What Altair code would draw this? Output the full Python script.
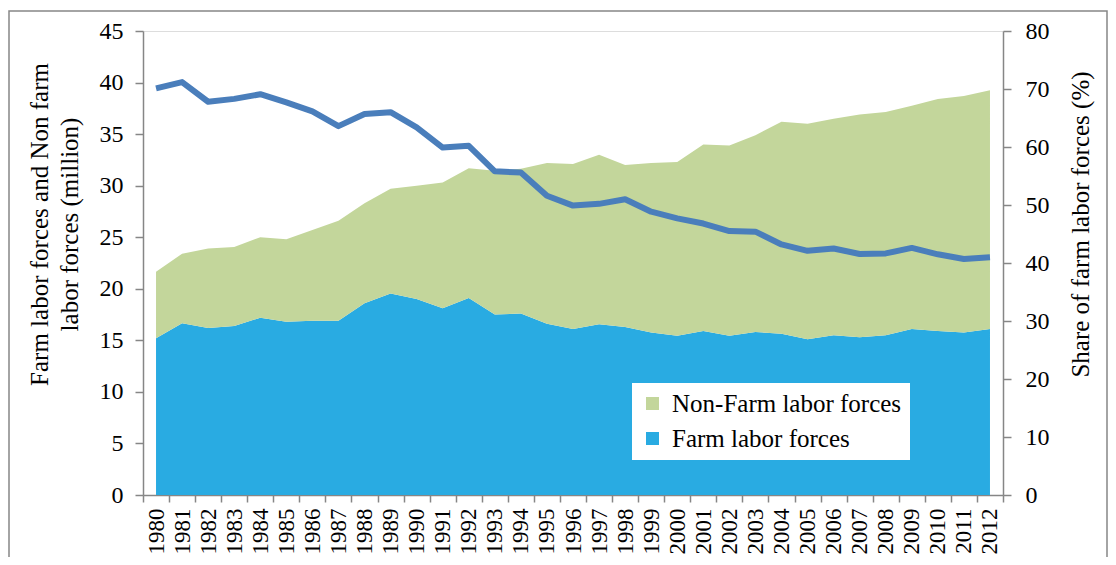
import altair as alt
import pandas as pd

years = list(range(1980, 2013))
farm = [15.2, 16.65, 16.2, 16.4, 17.2, 16.8, 16.9, 16.9, 18.6, 19.55, 19.0, 18.1, 19.1,
        17.5, 17.6, 16.6, 16.1, 16.55, 16.3, 15.75, 15.45, 15.9, 15.45, 15.8, 15.65,
        15.1, 15.5, 15.3, 15.5, 16.1, 15.9, 15.75, 16.1]
nonfarm = [6.46, 6.75, 7.7, 7.65, 7.8, 8.0, 8.8, 9.7, 9.7, 10.15, 11.0, 12.2, 12.6,
           13.95, 14.05, 15.6, 16.0, 16.45, 15.7, 16.45, 16.85, 18.1, 18.45, 19.1, 20.55,
           20.9, 21.0, 21.6, 21.65, 21.65, 22.5, 22.95, 23.15]
share = [70.1, 71.2, 67.8, 68.3, 69.1, 67.7, 66.15, 63.6, 65.7, 66.0, 63.4, 59.9, 60.2,
         55.8, 55.6, 51.6, 49.9, 50.2, 51.0, 48.85, 47.7, 46.8, 45.5, 45.4, 43.2,
         42.1, 42.5, 41.55, 41.65, 42.6, 41.5, 40.7, 41.0]
series_names = ["Non-Farm labor forces", "Farm labor forces"]
series_colors = ["#C3D69B", "#29ABE2"]

FONT = "Liberation Serif"
GRAY = "#868686"

rows = []
for y, f, n in zip(years, farm, nonfarm):
    rows.append({"year": y, "series": "Farm labor forces", "low": 0.0, "high": f})
    rows.append({"year": y, "series": "Non-Farm labor forces", "low": f, "high": f + n})
area_df = pd.DataFrame(rows)
line_df = pd.DataFrame({"year": years, "share": share})

xscale = alt.Scale(domain=[years[0] - 0.5, years[-1] + 0.5], nice=False, zero=False)
half_years = [y - 0.5 for y in years] + [years[-1] + 0.5]

frame = alt.Chart(alt.Data(values=[{"a": 1}])).mark_rect(
    fill=None, stroke=GRAY, strokeWidth=1.5, clip=False
).encode(
    x=alt.value(-134), x2=alt.value(964),
    y=alt.value(-20), y2=alt.value(560),
)

area = alt.Chart(area_df).mark_area(opacity=1).encode(
    x=alt.X("year:Q", scale=xscale,
            axis=alt.Axis(orient="bottom", values=half_years, labels=False, ticks=True,
                          tickSize=7, tickColor=GRAY, domain=True, domainColor=GRAY,
                          domainWidth=1.5, tickWidth=1.5, grid=False, title=None)),
    y=alt.Y("high:Q", scale=alt.Scale(domain=[0, 45], nice=False),
            axis=alt.Axis(orient="left", values=list(range(0, 46, 5)), grid=False,
                          tickSize=8, tickColor=GRAY, tickWidth=1.5, domainColor=GRAY,
                          domainWidth=1.5, labelFont=FONT, labelFontSize=24,
                          labelColor="black", labelPadding=12,
                          title=["Farm labor forces and Non farm", "labor forces (million)"],
                          titleFont=FONT, titleFontSize=25, titleFontWeight="normal",
                          titleColor="black", titleAngle=270, titleX=-104, titleY=193,
                          titleAlign="center", titleBaseline="middle", titleLineHeight=30)),
    y2="low:Q",
    color=alt.Color("series:N",
                    scale=alt.Scale(domain=series_names, range=series_colors),
                    legend=alt.Legend(orient="none", legendX=489, legendY=352, title=None,
                                      fillColor="white", padding=8,
                                      symbolType="square", symbolSize=170,
                                      symbolStrokeWidth=0, symbolOpacity=1,
                                      labelFont=FONT, labelFontSize=25, labelColor="black",
                                      labelOffset=7, rowPadding=9, labelLimit=400)),
)

line = alt.Chart(line_df).mark_line(color="#4A7EBB", strokeWidth=6, strokeJoin="round").encode(
    x=alt.X("year:Q", scale=xscale,
            axis=alt.Axis(orient="bottom", values=years, ticks=False, domain=False,
                          grid=False, labelAngle=270, labelPadding=13, labelFont=FONT,
                          labelFontSize=23, labelColor="black", labelOverlap=False,
                          format="d", title=None)),
    y=alt.Y("share:Q", scale=alt.Scale(domain=[0, 80], nice=False),
            axis=alt.Axis(orient="right", values=list(range(0, 81, 10)), grid=False,
                          tickSize=8, tickColor=GRAY, tickWidth=1.5, domainColor=GRAY,
                          domainWidth=1.5, labelFont=FONT, labelFontSize=24,
                          labelColor="black", labelPadding=14,
                          title="Share of farm labor forces (%)",
                          titleFont=FONT, titleFontSize=25, titleFontWeight="normal",
                          titleColor="black", titleAngle=270, titleX=77, titleY=193,
                          titleAlign="center", titleBaseline="middle")),
)

chart = alt.layer(frame, area, line).resolve_scale(y="independent").resolve_axis(
    x="independent", y="independent"
).properties(
    width=860, height=464,
    padding={"left": 135, "top": 23, "right": 105, "bottom": 62},
    autosize=alt.AutoSizeParams(type="none"),
).configure_view(stroke=None).configure(background="white")

chart.save("out.html", embed_options={"renderer": "svg", "actions": False})
